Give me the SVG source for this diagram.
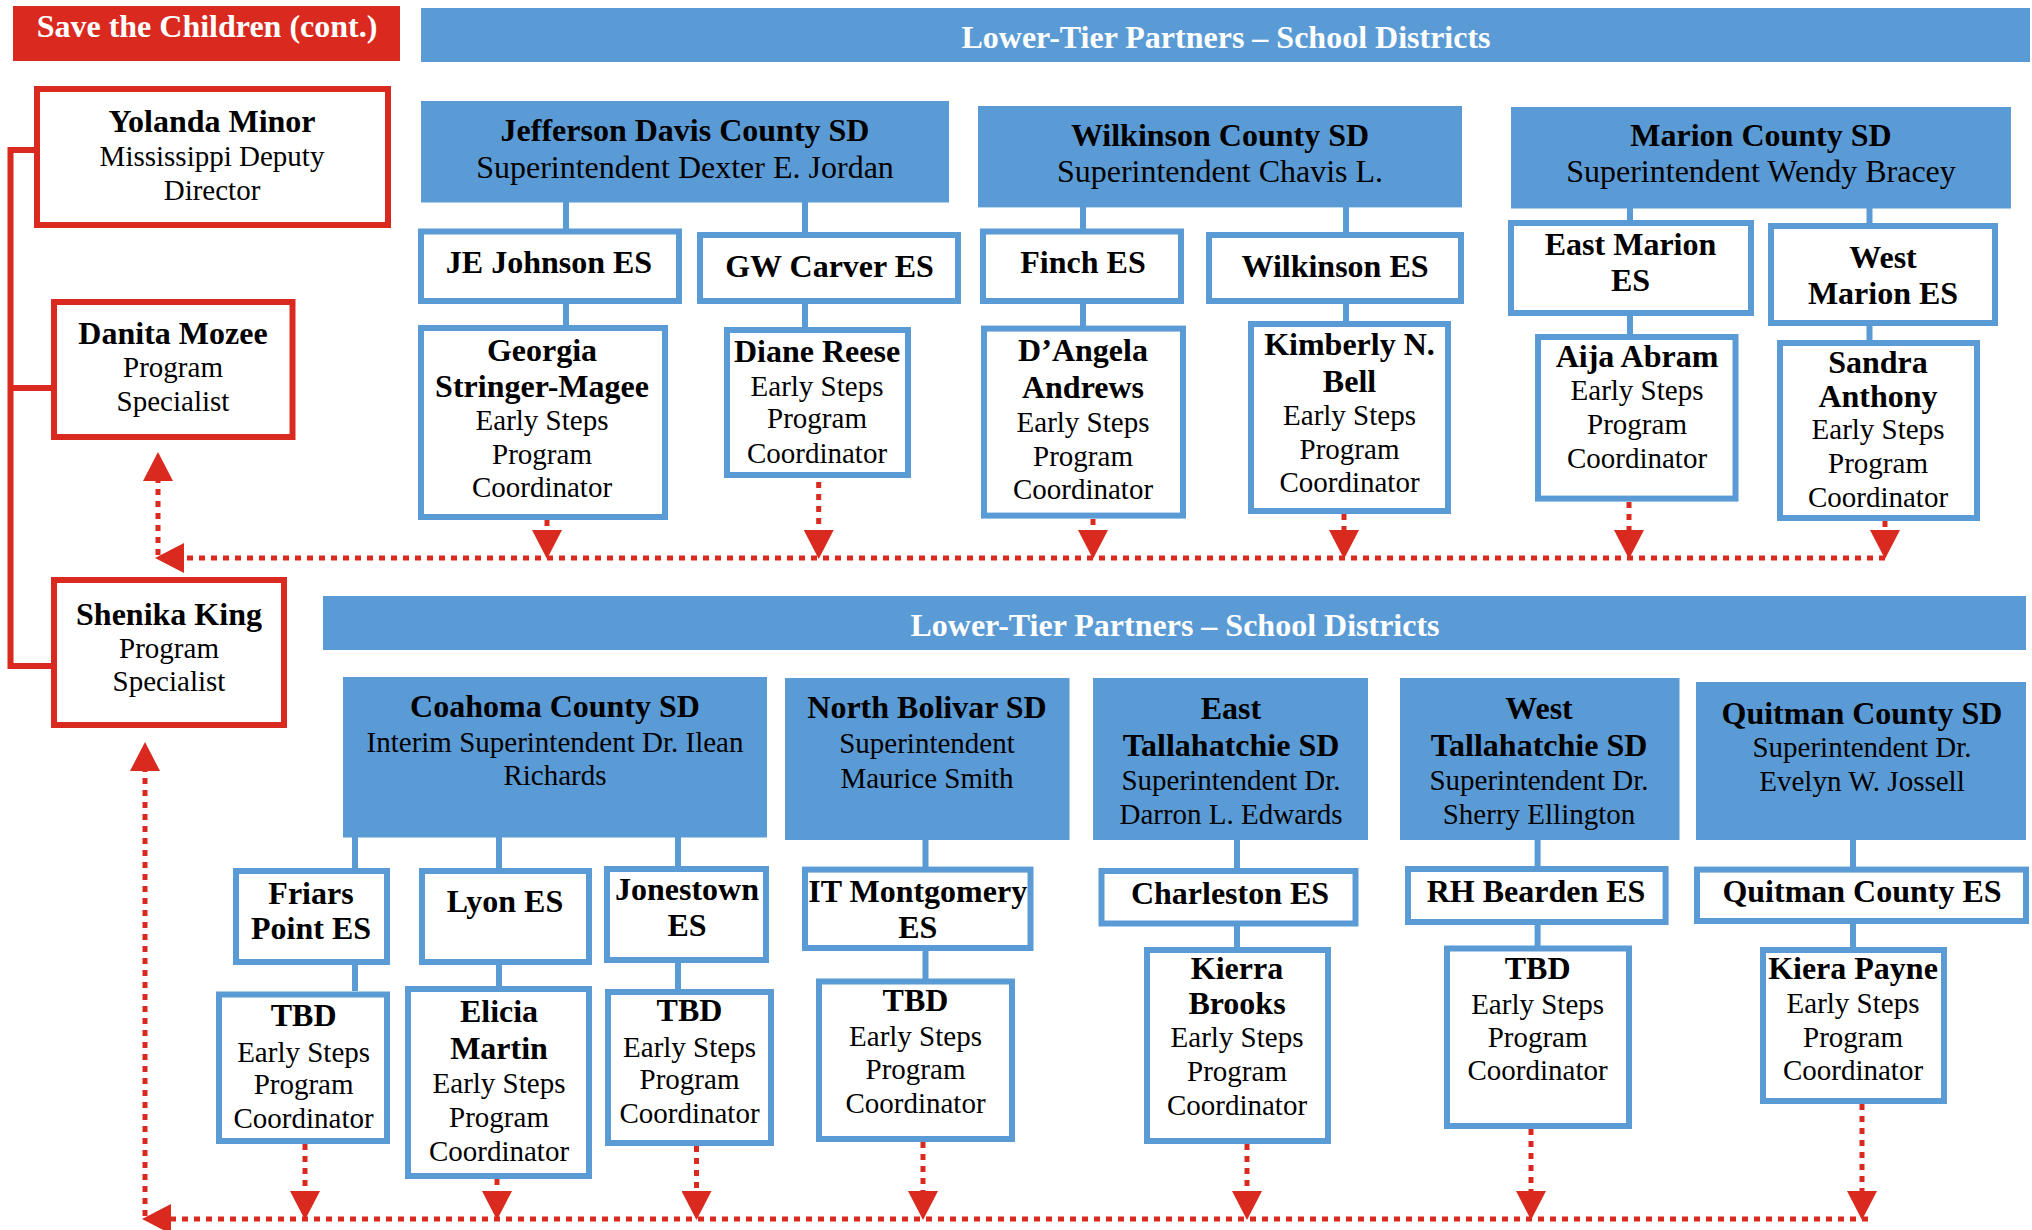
<svg xmlns="http://www.w3.org/2000/svg" width="2032" height="1230" viewBox="0 0 2032 1230">
<defs>
<style>
text{font-family:"Liberation Serif","Times New Roman",serif;text-anchor:middle;fill:#000}
.b{font-weight:bold;font-size:32px}
.r{font-size:29px}
.r32{font-size:32px}
.w{fill:#fff}
.rb{fill:#fff;stroke:#DA2A1F;stroke-width:6}
.bb{fill:#fff;stroke:#5B9BD5;stroke-width:6}
.bf{fill:#5B9BD5}
.rf{fill:#DA2A1F}
.cb{stroke:#5B9BD5;stroke-width:6;fill:none}
.cr{stroke:#DA2A1F;stroke-width:6;fill:none}
.dot{stroke:#DA2A1F;stroke-width:5;stroke-dasharray:6 6;fill:none;marker-end:url(#ah)}
.dl{stroke:#DA2A1F;stroke-width:5;stroke-dasharray:6 6;fill:none}
</style>
<marker id="ah" markerUnits="userSpaceOnUse" markerWidth="29" markerHeight="30" viewBox="0 0 29 30" refX="0" refY="15" orient="auto">
<path d="M0,0 L29,15 L0,30 Z" fill="#DA2A1F"/>
</marker>
</defs>
<rect width="2032" height="1230" fill="#fff"/>

<g id="connectors">
<path class="cr" d="M37,150 H10.5 V666 H54 M10.5,388 H54"/>
<path class="cb" d="M566,202 V229 M566,304 V325 M805,202 V232 M805,304 V327 M1083,207 V229 M1083,304 V326 M1346,207 V232 M1346,304 V321 M1630,208 V220 M1630,316 V334 M1869.5,208 V223 M1869.5,326 V340"/>
<path class="cb" d="M355,837 V868 M355,965 V991 M499,837 V868 M499,965 V986 M678,837 V866 M678,963 V989 M925.5,840 V867 M925.5,951 V979 M1237,840 V868 M1237,926 V947 M1537.6,840 V866 M1537.6,925 V946 M1853,840 V867 M1853,924 V947"/>
<path class="dot" d="M1885,558 H184"/>
<path class="dot" d="M158,555 V481"/>
<path class="dot" d="M547,520 V530"/>
<path class="dot" d="M818.7,482 V530"/>
<path class="dot" d="M1093,519 V530"/>
<path class="dot" d="M1344,514 V530"/>
<path class="dot" d="M1629,502 V530"/>
<path class="dot" d="M1885,521 V530"/>
<path class="dot" d="M1868,1219 H171"/>
<path class="dot" d="M145,1216 V771"/>
<path class="dot" d="M305,1144 V1191"/>
<path class="dot" d="M497,1179 V1191"/>
<path class="dot" d="M696.5,1146 V1191"/>
<path class="dot" d="M923,1142 V1191"/>
<path class="dot" d="M1247,1144 V1191"/>
<path class="dot" d="M1531,1129 V1191"/>
<path class="dot" d="M1862,1104 V1191"/>
</g>

<g id="title"><rect class="rf" x="13" y="6" width="387" height="55"/><text class="b w" x="207" y="37">Save the Children (cont.)</text></g>
<g id="header1"><rect class="bf" x="421" y="8" width="1609" height="54"/><text class="b w" x="1226" y="48">Lower-Tier Partners – School Districts</text></g>
<g id="header2"><rect class="bf" x="323" y="596" width="1703" height="54"/><text class="b w" x="1175" y="636">Lower-Tier Partners – School Districts</text></g>

<g id="yolanda"><rect class="rb" x="37" y="89" width="351" height="136"/><text x="212"><tspan class="b" x="212" y="132">Yolanda Minor</tspan><tspan class="r" x="212" y="166">Mississippi Deputy</tspan><tspan class="r" x="212" y="200">Director</tspan></text></g>
<g id="danita"><rect class="rb" x="54" y="302" width="238.5" height="135"/><text><tspan class="b" x="173" y="343.5">Danita Mozee</tspan><tspan class="r" x="173" y="377">Program</tspan><tspan class="r" x="173" y="410.6">Specialist</tspan></text></g>
<g id="shenika"><rect class="rb" x="54" y="580" width="230" height="145"/><text><tspan class="b" x="169" y="625">Shenika King</tspan><tspan class="r" x="169" y="657.6">Program</tspan><tspan class="r" x="169" y="691">Specialist</tspan></text></g>

<g id="jefferson"><rect class="bf" x="421" y="101" width="528" height="101.5"/><text><tspan class="b" x="685" y="141">Jefferson Davis County SD</tspan><tspan class="r32" x="685" y="177.5">Superintendent Dexter E. Jordan</tspan></text></g>
<g id="wilkinson"><rect class="bf" x="978" y="106" width="484" height="101.4"/><text><tspan class="b" x="1220" y="146">Wilkinson County SD</tspan><tspan class="r32" x="1220" y="182">Superintendent Chavis L.</tspan></text></g>
<g id="marion"><rect class="bf" x="1511" y="107" width="500" height="101.5"/><text><tspan class="b" x="1761" y="146.4">Marion County SD</tspan><tspan class="r32" x="1761" y="182">Superintendent Wendy Bracey</tspan></text></g>

<g id="jejohnson"><rect class="bb" x="421" y="231.5" width="258" height="69.5"/><text class="b" x="549" y="273">JE Johnson ES</text></g>
<g id="gwcarver"><rect class="bb" x="700" y="235" width="258" height="66"/><text class="b" x="829.5" y="277">GW Carver ES</text></g>
<g id="finch"><rect class="bb" x="983" y="231.5" width="198" height="69.5"/><text class="b" x="1083" y="273">Finch ES</text></g>
<g id="wilkinsones"><rect class="bb" x="1209" y="235" width="252" height="66"/><text class="b" x="1335" y="277">Wilkinson ES</text></g>
<g id="eastmarion"><rect class="bb" x="1511" y="223" width="240" height="90"/><text class="b"><tspan x="1630.5" y="255">East Marion</tspan><tspan x="1630.5" y="291">ES</tspan></text></g>
<g id="westmarion"><rect class="bb" x="1771" y="226" width="224" height="97"/><text class="b"><tspan x="1883" y="268">West</tspan><tspan x="1883" y="303.5">Marion ES</tspan></text></g>

<g id="georgia"><rect class="bb" x="421" y="328" width="244" height="189"/><text><tspan class="b" x="542" y="360.6">Georgia</tspan><tspan class="b" x="542" y="397">Stringer-Magee</tspan><tspan class="r" x="542" y="430">Early Steps</tspan><tspan class="r" x="542" y="464">Program</tspan><tspan class="r" x="542" y="497">Coordinator</tspan></text></g>
<g id="diane"><rect class="bb" x="727" y="330" width="181" height="145"/><text><tspan class="b" x="817" y="361.6">Diane Reese</tspan><tspan class="r" x="817" y="395.6">Early Steps</tspan><tspan class="r" x="817" y="428.4">Program</tspan><tspan class="r" x="817" y="463.4">Coordinator</tspan></text></g>
<g id="dangela"><rect class="bb" x="984" y="328.6" width="199" height="187"/><text><tspan class="b" x="1083" y="361">D’Angela</tspan><tspan class="b" x="1083" y="398">Andrews</tspan><tspan class="r" x="1083" y="432">Early Steps</tspan><tspan class="r" x="1083" y="466">Program</tspan><tspan class="r" x="1083" y="499">Coordinator</tspan></text></g>
<g id="kimberly"><rect class="bb" x="1251" y="324" width="197" height="187"/><text><tspan class="b" x="1349.5" y="355">Kimberly N.</tspan><tspan class="b" x="1349.5" y="392">Bell</tspan><tspan class="r" x="1349.5" y="425">Early Steps</tspan><tspan class="r" x="1349.5" y="459">Program</tspan><tspan class="r" x="1349.5" y="492">Coordinator</tspan></text></g>
<g id="aija"><rect class="bb" x="1538" y="337" width="197.5" height="161.6"/><text><tspan class="b" x="1637" y="366.6">Aija Abram</tspan><tspan class="r" x="1637" y="400">Early Steps</tspan><tspan class="r" x="1637" y="433.8">Program</tspan><tspan class="r" x="1637" y="467.7">Coordinator</tspan></text></g>
<g id="sandra"><rect class="bb" x="1780" y="343" width="197" height="175"/><text><tspan class="b" x="1878" y="373">Sandra</tspan><tspan class="b" x="1878" y="407">Anthony</tspan><tspan class="r" x="1878" y="439">Early Steps</tspan><tspan class="r" x="1878" y="473">Program</tspan><tspan class="r" x="1878" y="507">Coordinator</tspan></text></g>

<g id="coahoma"><rect class="bf" x="343" y="677" width="424" height="160.5"/><text><tspan class="b" x="555" y="717">Coahoma County SD</tspan><tspan class="r" x="555" y="752">Interim Superintendent Dr. Ilean</tspan><tspan class="r" x="555" y="785">Richards</tspan></text></g>
<g id="northbolivar"><rect class="bf" x="785" y="678" width="284.5" height="162"/><text><tspan class="b" x="927" y="718">North Bolivar SD</tspan><tspan class="r" x="927" y="753">Superintendent</tspan><tspan class="r" x="927" y="787.7">Maurice Smith</tspan></text></g>
<g id="easttallahatchie"><rect class="bf" x="1093" y="678" width="275" height="162"/><text><tspan class="b" x="1231" y="719">East</tspan><tspan class="b" x="1231" y="756">Tallahatchie SD</tspan><tspan class="r" x="1231" y="790">Superintendent Dr.</tspan><tspan class="r" x="1231" y="824">Darron L. Edwards</tspan></text></g>
<g id="westtallahatchie"><rect class="bf" x="1400" y="678" width="279.5" height="162"/><text><tspan class="b" x="1539" y="719">West</tspan><tspan class="b" x="1539" y="756">Tallahatchie SD</tspan><tspan class="r" x="1539" y="790">Superintendent Dr.</tspan><tspan class="r" x="1539" y="824">Sherry Ellington</tspan></text></g>
<g id="quitman"><rect class="bf" x="1696" y="682" width="330" height="158"/><text><tspan class="b" x="1862" y="723.5">Quitman County SD</tspan><tspan class="r" x="1862" y="757">Superintendent Dr.</tspan><tspan class="r" x="1862" y="790.7">Evelyn W. Jossell</tspan></text></g>

<g id="friars"><rect class="bb" x="236" y="871" width="151" height="91"/><text class="b"><tspan x="311" y="903.5">Friars</tspan><tspan x="311" y="939">Point ES</tspan></text></g>
<g id="lyon"><rect class="bb" x="422" y="871" width="167" height="91"/><text class="b" x="505" y="912">Lyon ES</text></g>
<g id="jonestown"><rect class="bb" x="607" y="869" width="159" height="91"/><text class="b"><tspan x="687" y="900">Jonestown</tspan><tspan x="687" y="936">ES</tspan></text></g>
<g id="itmontgomery"><rect class="bb" x="805" y="869.6" width="225.5" height="78.4"/><text class="b"><tspan x="917.7" y="902">IT Montgomery</tspan><tspan x="917.7" y="938">ES</tspan></text></g>
<g id="charleston"><rect class="bb" x="1101.5" y="871" width="254" height="52.5"/><text class="b" x="1230" y="903.5">Charleston ES</text></g>
<g id="rhbearden"><rect class="bb" x="1408" y="869" width="257.6" height="53"/><text class="b" x="1536" y="902">RH Bearden ES</text></g>
<g id="quitmanes"><rect class="bb" x="1697" y="869.6" width="329" height="51.4"/><text class="b" x="1862" y="902">Quitman County ES</text></g>

<g id="tbd-friars"><rect class="bb" x="219" y="994.5" width="168" height="146.5"/><text><tspan class="b" x="303.6" y="1026">TBD</tspan><tspan class="r" x="303.6" y="1062">Early Steps</tspan><tspan class="r" x="303.6" y="1094">Program</tspan><tspan class="r" x="303.6" y="1128">Coordinator</tspan></text></g>
<g id="elicia"><rect class="bb" x="408" y="989" width="181" height="187"/><text><tspan class="b" x="499" y="1022">Elicia</tspan><tspan class="b" x="499" y="1059">Martin</tspan><tspan class="r" x="499" y="1093">Early Steps</tspan><tspan class="r" x="499" y="1127">Program</tspan><tspan class="r" x="499" y="1160.6">Coordinator</tspan></text></g>
<g id="tbd-jonestown"><rect class="bb" x="608" y="992" width="163" height="151"/><text><tspan class="b" x="689.5" y="1021">TBD</tspan><tspan class="r" x="689.5" y="1056.6">Early Steps</tspan><tspan class="r" x="689.5" y="1089">Program</tspan><tspan class="r" x="689.5" y="1122.5">Coordinator</tspan></text></g>
<g id="tbd-it"><rect class="bb" x="819" y="981.5" width="193" height="157.5"/><text><tspan class="b" x="915.5" y="1011">TBD</tspan><tspan class="r" x="915.5" y="1046">Early Steps</tspan><tspan class="r" x="915.5" y="1079">Program</tspan><tspan class="r" x="915.5" y="1112.5">Coordinator</tspan></text></g>
<g id="kierra"><rect class="bb" x="1147" y="950" width="181" height="191"/><text><tspan class="b" x="1237" y="979">Kierra</tspan><tspan class="b" x="1237" y="1014">Brooks</tspan><tspan class="r" x="1237" y="1046.6">Early Steps</tspan><tspan class="r" x="1237" y="1081">Program</tspan><tspan class="r" x="1237" y="1114.7">Coordinator</tspan></text></g>
<g id="tbd-rh"><rect class="bb" x="1447" y="948.5" width="182" height="177.5"/><text><tspan class="b" x="1537.6" y="979">TBD</tspan><tspan class="r" x="1537.6" y="1014">Early Steps</tspan><tspan class="r" x="1537.6" y="1046.6">Program</tspan><tspan class="r" x="1537.6" y="1080">Coordinator</tspan></text></g>
<g id="kiera"><rect class="bb" x="1763" y="950" width="181" height="151"/><text><tspan class="b" x="1853" y="979">Kiera Payne</tspan><tspan class="r" x="1853" y="1013">Early Steps</tspan><tspan class="r" x="1853" y="1046.6">Program</tspan><tspan class="r" x="1853" y="1080">Coordinator</tspan></text></g>
</svg>
